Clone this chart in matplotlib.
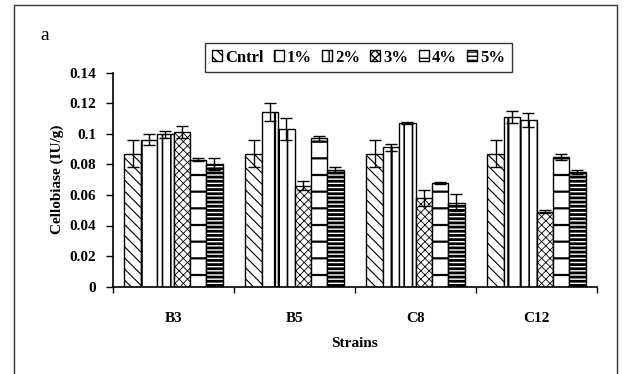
import matplotlib.pyplot as plt
import matplotlib as mpl
import numpy as np
from matplotlib.patches import Rectangle

strains = ['B3', 'B5', 'C8', 'C12']
series = ['Cntrl', '1%', '2%', '3%', '4%', '5%']
# one row per series, one column per strain
values = [
    [0.087, 0.087, 0.087, 0.087],   # Cntrl
    [0.096, 0.114, 0.091, 0.111],   # 1%
    [0.0995, 0.103, 0.107, 0.109],  # 2%
    [0.101, 0.066, 0.058, 0.049],   # 3%
    [0.083, 0.097, 0.068, 0.0845],  # 4%
    [0.080, 0.076, 0.055, 0.075],   # 5%
]
errors = [
    [0.009, 0.009, 0.009, 0.009],
    [0.0035, 0.006, 0.0025, 0.004],
    [0.0025, 0.007, 0.0005, 0.0045],
    [0.004, 0.003, 0.005, 0.001],
    [0.0008, 0.0015, 0.0007, 0.002],
    [0.004, 0.002, 0.0055, 0.0015],
]
hatches = ['\\\\\\', '|', '||', 'xxxx', '-', '----']
hatch_lw = [0.8, 1.6, 1.2, 0.6, 1.6, 2.0]

plt.rcParams['font.family'] = 'Liberation Serif'
plt.rcParams['font.weight'] = 'bold'

fig = plt.figure(figsize=(6.26, 3.74), dpi=100)
ax = fig.add_axes([113/626, 1-286.7/374, (597-113)/626, (286.7-72.5)/374])

x = np.arange(len(strains))
w = 0.135
for i, s in enumerate(series):
    with mpl.rc_context({'hatch.linewidth': hatch_lw[i]}):
        ax.bar(x + (i - 2.5)*w, values[i], w, color='white', edgecolor='black',
               linewidth=1.0, hatch=hatches[i], label=s,
               yerr=errors[i], error_kw=dict(ecolor='black', elinewidth=1, capsize=4, capthick=1))

ax.set_xlim(-0.5, 3.5)
ax.set_ylim(0, 0.14)
ax.set_yticks(np.arange(0, 0.141, 0.02))
ax.set_yticklabels(['0', '0.02', '0.04', '0.06', '0.08', '0.1', '0.12', '0.14'])
ax.set_xticks(x)
ax.set_xticklabels(strains)
ax.set_xticks(np.arange(-0.5, 3.6, 1), minor=True)
ax.tick_params(axis='x', which='major', length=0, pad=18, labelsize=11)
ax.tick_params(axis='x', which='minor', length=4, width=1, direction='out')
ax.tick_params(axis='y', length=5, width=1, direction='out', labelsize=11, pad=7)
for side in ['top', 'right']:
    ax.spines[side].set_visible(False)
ax.spines['left'].set_linewidth(1.2)
ax.spines['bottom'].set_linewidth(1.2)

ax.set_ylabel('Cellobiase (IU/g)', fontsize=11, fontweight='bold', labelpad=4)
ax.set_xlabel('Strains', fontsize=11, fontweight='bold', labelpad=9)

leg = fig.legend(loc='center', bbox_to_anchor=(358.5/626, 1-57.5/374), ncol=6,
                 frameon=True, fancybox=False, edgecolor='black',
                 prop={'family': 'Liberation Serif', 'weight': 'bold', 'size': 12},
                 handlelength=0.6, handleheight=0.6, handletextpad=0.2,
                 columnspacing=0.6, borderpad=0.4)
leg.get_frame().set_linewidth(1.0)

fig.text(40/626, 1-35/374, 'a', fontsize=14, fontweight='normal', va='center', ha='left')

fig.patches.append(Rectangle((14/626, -0.05), (617-14)/626, 1-5/374+0.05,
                             transform=fig.transFigure, fill=False,
                             edgecolor='#333333', linewidth=1.0))

fig.savefig('out.png', dpi=100)
